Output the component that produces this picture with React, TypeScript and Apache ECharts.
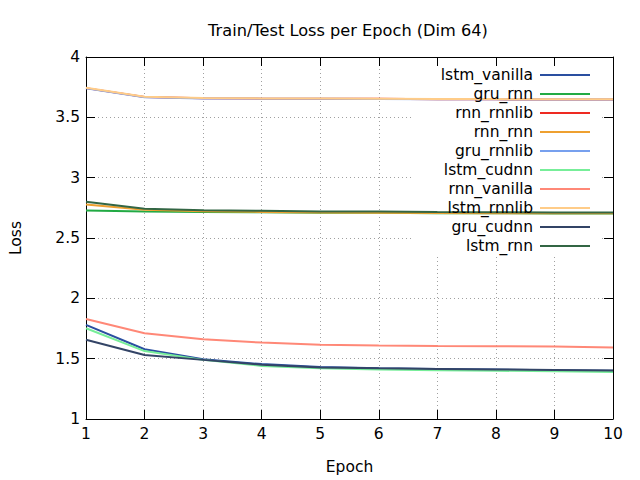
import React, { useEffect, useRef } from "react";
import * as echarts from "echarts";

const epochs = [1, 2, 3, 4, 5, 6, 7, 8, 9, 10];
const seriesNames = [
  "lstm_vanilla", "gru_rnn", "rnn_rnnlib", "rnn_rnn", "gru_rnnlib",
  "lstm_cudnn", "rnn_vanilla", "lstm_rnnlib", "gru_cudnn", "lstm_rnn",
];
const seriesColors = [
  "#2a4fa0", "#22aa44", "#ee2a22", "#eea030", "#77a0ee",
  "#77ee99", "#ff8877", "#ffcc88", "#334466", "#336644",
];
const lstm_vanilla = [1.78, 1.578, 1.495, 1.455, 1.43, 1.42, 1.415, 1.41, 1.405, 1.40];
const gru_rnn = [2.728, 2.72, 2.716, 2.714, 2.71, 2.709, 2.706, 2.705, 2.704, 2.703];
const rnn_rnnlib = [3.742, 3.668, 3.658, 3.655, 3.654, 3.653, 3.65, 3.649, 3.648, 3.648];
const rnn_rnn = [2.778, 2.735, 2.722, 2.716, 2.712, 2.71, 2.707, 2.706, 2.705, 2.705];
const gru_rnnlib = [3.74, 3.667, 3.657, 3.655, 3.654, 3.652, 3.65, 3.649, 3.648, 3.647];
const lstm_cudnn = [1.752, 1.563, 1.49, 1.44, 1.42, 1.41, 1.405, 1.40, 1.395, 1.39];
const rnn_vanilla = [1.829, 1.71, 1.66, 1.633, 1.616, 1.609, 1.605, 1.603, 1.601, 1.592];
const lstm_rnnlib = [3.745, 3.67, 3.66, 3.657, 3.656, 3.655, 3.652, 3.651, 3.65, 3.649];
const gru_cudnn = [1.657, 1.53, 1.49, 1.45, 1.427, 1.42, 1.415, 1.41, 1.407, 1.402];
const lstm_rnn = [2.80, 2.742, 2.73, 2.725, 2.72, 2.719, 2.715, 2.714, 2.712, 2.711];
const allValues = [
  lstm_vanilla, gru_rnn, rnn_rnnlib, rnn_rnn, gru_rnnlib,
  lstm_cudnn, rnn_vanilla, lstm_rnnlib, gru_cudnn, lstm_rnn,
];

const FONT = "DejaVu Sans";

export default function App() {
  const ref = useRef<HTMLDivElement>(null);
  useEffect(() => {
    if (!ref.current) return;
    const chart = echarts.init(ref.current, undefined, { renderer: "svg" });
    const axisLine = { show: true, onZero: false, lineStyle: { color: "#000", width: 1 } };
    const tick = { show: true, inside: true, length: 9, lineStyle: { color: "#000" } };
    const grid = { show: true, lineStyle: { color: "#a0a0a0", type: [1, 3] as any, width: 1 } };
    chart.setOption({
      animation: false,
      textStyle: { fontFamily: FONT },
      title: {
        text: "Train/Test Loss per Epoch (Dim 64)",
        left: 343,
        top: 17,
        textAlign: "center",
        textStyle: { fontFamily: FONT, fontSize: 16.2, fontWeight: "normal", color: "#000" },
      },
      grid: { left: 84, right: 27, top: 57, bottom: 61 },
      legend: {
        orient: "vertical",
        right: 49,
        top: 67,
        padding: 0,
        align: "right",
        itemWidth: 50,
        itemHeight: 14,
        itemGap: 3,
        itemStyle: { opacity: 0, borderWidth: 0 },
        lineStyle: { width: 2 },
        data: seriesNames,
        textStyle: { fontFamily: FONT, fontSize: 15.5, color: "#000", lineHeight: 14, padding: [0, 2, 0, 0] },
      },
      graphic: [
        { type: "rect", z: 1, shape: { x: 411, y: 66, width: 190, height: 189 }, style: { fill: "#fff" } },
      ],
      xAxis: [
        {
          type: "value", min: 1, max: 10, interval: 1, position: "bottom",
          name: "Epoch", nameLocation: "middle", nameGap: 40,
          nameTextStyle: { fontFamily: FONT, fontSize: 15.5, color: "#000" },
          axisLine, axisTick: tick, splitLine: grid,
          axisLabel: { fontFamily: FONT, fontSize: 15.5, color: "#000", margin: 7 },
        },
        {
          type: "value", min: 1, max: 10, interval: 1, position: "top",
          axisLine, axisTick: tick, splitLine: { show: false }, axisLabel: { show: false },
        },
      ],
      yAxis: [
        {
          type: "value", min: 1, max: 4, interval: 0.5, position: "left",
          name: "Loss", nameLocation: "middle", nameGap: 62,
          nameTextStyle: { fontFamily: FONT, fontSize: 15.5, color: "#000" },
          axisLine, axisTick: tick, splitLine: grid,
          axisLabel: { fontFamily: FONT, fontSize: 15.5, color: "#000", margin: 6 },
        },
        {
          type: "value", min: 1, max: 4, interval: 0.5, position: "right",
          axisLine, axisTick: tick, splitLine: { show: false }, axisLabel: { show: false },
        },
      ],
      series: seriesNames.map((name, i) => ({
        name,
        type: "line",
        symbol: "none",
        z: 3,
        color: seriesColors[i],
        lineStyle: { width: 2, color: seriesColors[i] },
        data: epochs.map((e, j) => [e, allValues[i][j]]),
      })),
    });
    return () => chart.dispose();
  }, []);
  return (
    <div
      ref={ref}
      style={{ position: "fixed", left: 0, top: 0, width: 640, height: 480, background: "#fff" }}
    />
  );
}
